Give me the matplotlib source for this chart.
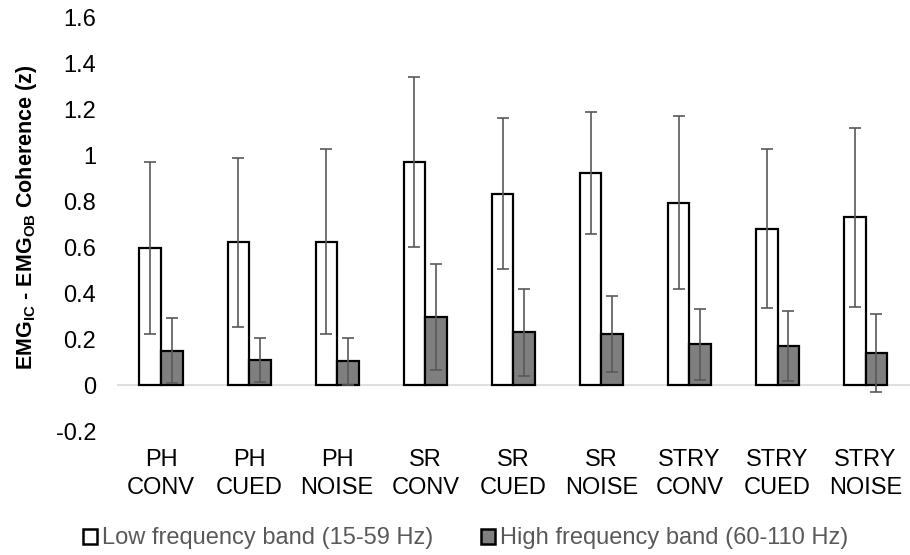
import matplotlib.pyplot as plt
import numpy as np
from matplotlib.patches import Patch

plt.rcParams['font.family'] = ['Liberation Sans', 'DejaVu Sans']
plt.rcParams['mathtext.fontset'] = 'custom'
plt.rcParams['mathtext.rm'] = 'Liberation Sans'
plt.rcParams['mathtext.bf'] = 'Liberation Sans:bold'

conditions = ["PH\nCONV", "PH\nCUED", "PH\nNOISE", "SR\nCONV", "SR\nCUED",
              "SR\nNOISE", "STRY\nCONV", "STRY\nCUED", "STRY\nNOISE"]
low_mean = [0.598, 0.622, 0.625, 0.972, 0.834, 0.926, 0.795, 0.682, 0.732]
low_err = [0.375, 0.367, 0.404, 0.372, 0.328, 0.266, 0.378, 0.345, 0.390]
high_mean = [0.150, 0.109, 0.103, 0.297, 0.230, 0.223, 0.178, 0.171, 0.140]
high_err = [0.142, 0.095, 0.101, 0.232, 0.191, 0.166, 0.155, 0.152, 0.168]
y_ticks = [-0.2, 0, 0.2, 0.4, 0.6, 0.8, 1, 1.2, 1.4, 1.6]
y_tick_labels = ["-0.2", "0", "0.2", "0.4", "0.6", "0.8", "1", "1.2", "1.4", "1.6"]

fig = plt.figure(figsize=(9.1, 5.55), dpi=100)
ax = fig.add_axes([0.1286, 0.2234, 0.871, 0.7442])

x = np.arange(len(conditions))
w = 0.245
err_style = dict(ecolor='#595959', elinewidth=1.2, capsize=4, capthick=1.2)

ax.axhline(0, color='#d9d9d9', lw=1.2, zorder=1)
ax.bar(x - w / 2, low_mean, w, color='white', edgecolor='black', lw=1.6,
       yerr=low_err, error_kw=err_style, zorder=2)
ax.bar(x + w / 2, high_mean, w, color='#7f7f7f', edgecolor='black', lw=1.6,
       yerr=high_err, error_kw=err_style, zorder=2)

ax.set_xlim(-0.5, len(conditions) - 0.5)
ax.set_ylim(-0.2, 1.6)
ax.set_yticks(y_ticks)
ax.set_yticklabels(y_tick_labels)
ax.set_xticks(x)
ax.set_xticklabels(conditions, linespacing=1.35)
ax.tick_params(axis='both', length=0, labelsize=17, colors='black')
ax.tick_params(axis='x', pad=13)
ax.tick_params(axis='y', pad=15)
for s in ax.spines.values():
    s.set_visible(False)

fig.text(0.0286, 0.608, r"$\mathbf{EMG_{IC}}$ - $\mathbf{EMG_{OB}}$ Coherence (z)",
         rotation=90, ha='center', va='center', fontsize=15.5, fontweight='bold')

handles = [Patch(facecolor='white', edgecolor='black', lw=1.8),
           Patch(facecolor='#7f7f7f', edgecolor='black', lw=1.8)]
fig.legend(handles, ["Low frequency band (15-59 Hz)", "High frequency band (60-110 Hz)"],
           loc='center', bbox_to_anchor=(0.5115, 0.03), ncol=2, frameon=False,
           fontsize=17, labelcolor='#595959', handlelength=0.6, handleheight=0.6,
           handletextpad=0.2, columnspacing=2.05, borderpad=0, borderaxespad=0)

fig.savefig("out.png", dpi=100)
